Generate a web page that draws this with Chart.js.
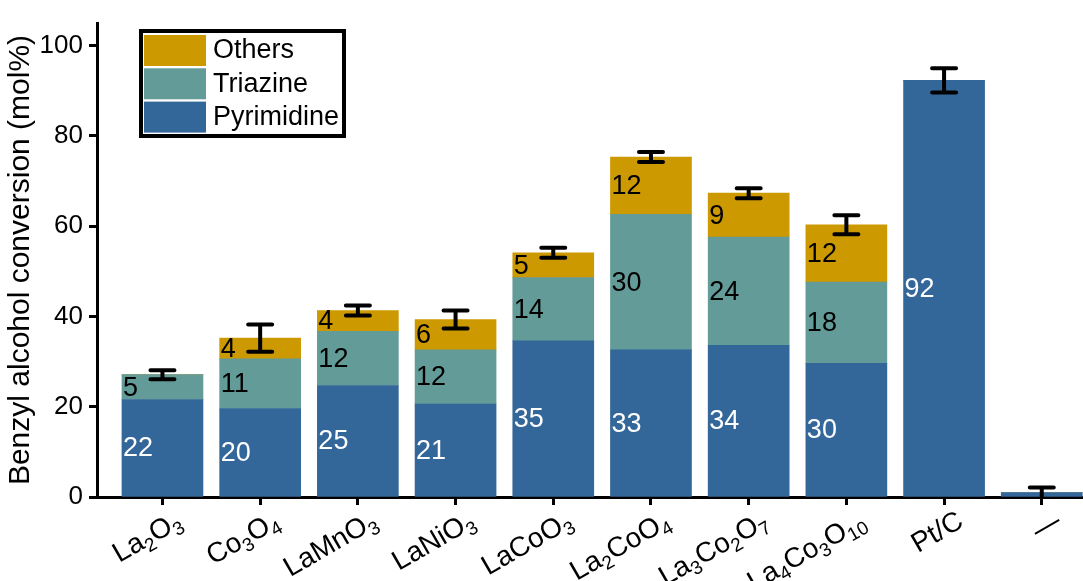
<!DOCTYPE html>
<html>
<head>
<meta charset="utf-8">
<script src="https://cdn.jsdelivr.net/npm/chart.js@4.4.0/dist/chart.umd.min.js"></script>
<style>
    html, body { margin: 0; padding: 0; background: #fff; overflow: hidden; }
    #wrap { width: 1083px; height: 581px; }
</style>
</head>
<body>
<div id="wrap"><canvas id="grafico"></canvas></div>
<script>
// categorias: _{..} = subscrito
const categorias = ['La_{2}O_{3}', 'Co_{3}O_{4}', 'LaMnO_{3}', 'LaNiO_{3}', 'LaCoO_{3}',
    'La_{2}CoO_{4}', 'La_{3}Co_{2}O_{7}', 'La_{4}Co_{3}O_{10}', 'Pt/C', '\u2014'];

const pirimidina = [21.6, 19.6, 24.7, 20.6, 34.6, 32.6, 33.6, 29.6, 92.3, 1.0];
const triazina   = [5.5, 11.0, 12.0, 12.0, 14.0, 30.0, 24.0, 18.0, 0, 0];
const outros     = [0, 4.6, 4.6, 6.7, 5.5, 12.7, 9.7, 12.7, 0, 0];
const erro       = [1.0, 3.0, 1.1, 2.0, 1.1, 1.1, 1.1, 2.1, 2.7, 1.1];

// numeros escritos dentro das barras
const rotPirimidina = ['22', '20', '25', '21', '35', '33', '34', '30', '92', ''];
const rotTriazina   = ['5', '11', '12', '12', '14', '30', '24', '18', '', ''];
const rotOutros     = ['', '4', '4', '6', '5', '12', '9', '12', '', ''];

const yTicks = [0, 20, 40, 60, 80, 100];

const FONTE = "'Liberation Sans', Arial, Helvetica, sans-serif";
Chart.defaults.font.family = FONTE;
Chart.defaults.color = '#000';

function pontos(valores) {
    return valores.map((v, i) => ({ x: i, y: v }));
}

const rotulosBarras = {
    id: 'rotulosBarras',
    afterDatasetsDraw(chart) {
        const ctx = chart.ctx;
        const listas = [rotPirimidina, rotTriazina, rotOutros];
        const cores = ['#fff', '#000', '#000'];
        ctx.save();
        ctx.font = '27px ' + FONTE;
        ctx.textAlign = 'left';
        ctx.textBaseline = 'middle';
        listas.forEach((lista, d) => {
            const meta = chart.getDatasetMeta(d);
            meta.data.forEach((bar, i) => {
                if (!lista[i]) return;
                const p = bar.getProps(['x', 'y', 'base', 'width'], true);
                ctx.fillStyle = cores[d];
                ctx.fillText(lista[i], p.x - p.width / 2 + 1, (p.y + p.base) / 2 + 1);
            });
        });
        ctx.restore();
    }
};

const barrasErro = {
    id: 'barrasErro',
    afterDatasetsDraw(chart) {
        const ctx = chart.ctx;
        const xs = chart.scales.x, ys = chart.scales.y;
        ctx.save();
        ctx.strokeStyle = '#000';
        ctx.lineWidth = 4;
        ctx.lineCap = 'round';
        categorias.forEach((c, i) => {
            const total = pirimidina[i] + triazina[i] + outros[i];
            const x = xs.getPixelForValue(i);
            const y1 = ys.getPixelForValue(total + erro[i]);
            const y2 = ys.getPixelForValue(Math.max(0, total - erro[i]));
            ctx.beginPath();
            ctx.moveTo(x, y1); ctx.lineTo(x, y2);
            ctx.moveTo(x - 12, y1); ctx.lineTo(x + 12, y1);
            if (total - erro[i] > 0) { ctx.moveTo(x - 12, y2); ctx.lineTo(x + 12, y2); }
            ctx.stroke();
        });
        ctx.restore();
    }
};

const rotulosX = {
    id: 'rotulosX',
    afterDraw(chart) {
        const ctx = chart.ctx;
        const xs = chart.scales.x;
        const fMain = '28px ' + FONTE, fSub = '19px ' + FONTE;
        ctx.save();
        ctx.fillStyle = '#000';
        ctx.textBaseline = 'alphabetic';
        ctx.textAlign = 'left';
        categorias.forEach((c, i) => {
            const partes = [];
            c.split(/(_\{[^}]*\})/).forEach(s => {
                if (!s) return;
                if (s.startsWith('_{')) partes.push({ t: s.slice(2, -1), sub: true });
                else partes.push({ t: s, sub: false });
            });
            let largura = 0;
            partes.forEach(p => { ctx.font = p.sub ? fSub : fMain; p.w = ctx.measureText(p.t).width; largura += p.w; });
            const x = xs.getPixelForValue(i) + 21;
            const y = xs.top + 29;
            ctx.save();
            ctx.translate(x, y);
            ctx.rotate(-30 * Math.PI / 180);
            let cx = -largura;
            partes.forEach(p => {
                ctx.font = p.sub ? fSub : fMain;
                ctx.fillText(p.t, cx, p.sub ? 6 : 0);
                cx += p.w;
            });
            ctx.restore();
        });
        ctx.restore();
    }
};

const legendaCaixa = {
    id: 'legendaCaixa',
    afterDraw(chart) {
        const ctx = chart.ctx;
        const a = chart.chartArea;
        const x0 = a.left + 42, y0 = a.top + 6;
        const itens = [2, 1, 0];
        ctx.save();
        ctx.lineWidth = 4;
        ctx.strokeStyle = '#000';
        ctx.strokeRect(x0 + 2, y0 + 2, 203, 105);
        ctx.font = '27px ' + FONTE;
        ctx.textBaseline = 'middle';
        ctx.textAlign = 'left';
        itens.forEach((d, k) => {
            const ds = chart.data.datasets[d];
            const sy = y0 + 6 + k * 33.3;
            ctx.fillStyle = ds.backgroundColor;
            ctx.fillRect(x0 + 5, sy, 62, 31);
            ctx.fillStyle = '#000';
            ctx.fillText(ds.label, x0 + 74, sy + 16);
        });
        ctx.restore();
    }
};

document.addEventListener('DOMContentLoaded', function() {
    const ctx = document.getElementById('grafico').getContext('2d');
    new Chart(ctx, {
        type: 'bar',
        data: {
            datasets: [
                { label: 'Pyrimidine', data: pontos(pirimidina), backgroundColor: '#336699' },
                { label: 'Triazine', data: pontos(triazina), backgroundColor: '#639b98' },
                { label: 'Others', data: pontos(outros), backgroundColor: '#cc9900' }
            ]
        },
        options: {
            responsive: true,
            maintainAspectRatio: false,
            animation: false,
            layout: { padding: { top: 23, left: 0, right: 0, bottom: 0 } },
            datasets: { bar: { barThickness: 81, borderWidth: 0 } },
            plugins: { legend: { display: false }, tooltip: { enabled: false } },
            scales: {
                x: {
                    type: 'linear',
                    stacked: true,
                    offset: false,
                    min: -0.670,
                    max: 9.422,
                    border: { color: '#000', width: 3 },
                    grid: { offset: false, drawOnChartArea: false, drawTicks: true, tickLength: 8, tickWidth: 3, tickColor: '#000' },
                    ticks: { display: false },
                    afterBuildTicks: s => { s.ticks = categorias.map((c, i) => ({ value: i })); },
                    afterFit: s => { s.height = 84; }
                },
                y: {
                    stacked: true,
                    min: 0,
                    max: 105,
                    border: { color: '#000', width: 3 },
                    grid: { drawOnChartArea: false, drawTicks: true, tickLength: 8, tickWidth: 3, tickColor: '#000' },
                    ticks: { color: '#000', font: { size: 26 }, padding: 6 },
                    afterBuildTicks: s => { s.ticks = yTicks.map(v => ({ value: v })); },
                    title: {
                        display: true,
                        text: 'Benzyl alcohol conversion (mol%)',
                        color: '#000',
                        font: { size: 30 },
                        padding: { top: 3, bottom: 0 }
                    },
                    afterFit: s => { s.width = 97; }
                }
            }
        },
        plugins: [rotulosBarras, barrasErro, rotulosX, legendaCaixa]
    });
});
</script>
</body>
</html>
